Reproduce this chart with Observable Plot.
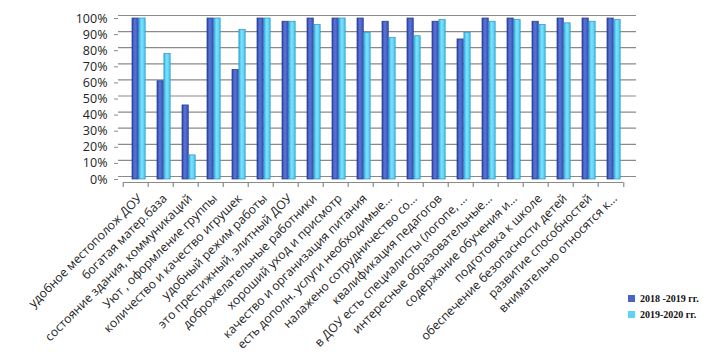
<!DOCTYPE html>
<html>
<head>
<meta charset="utf-8">
<script src="https://cdn.jsdelivr.net/npm/d3@7"></script>
<script src="https://cdn.jsdelivr.net/npm/@observablehq/plot@0.6"></script>
<style>
  html, body { margin: 0; padding: 0; background: #fff; }
  #chart { position: relative; width: 703px; height: 352px; }
</style>
</head>
<body>
<div id="chart"></div>
<script>
const categories = [
  "удобное местополож ДОУ",
  "богатая матер.база",
  "состояние здания, коммуникаций",
  "Уют , оформление группы",
  "количество и качество игрушек",
  "удобный режим работы",
  "это престижный, элитный ДОУ",
  "доброжелательные работники",
  "хороший уход и присмотр",
  "качество и организация питания",
  "есть дополн. услуги необходимые...",
  "налажено сотрудничество со...",
  "квалификация педагогов",
  "в ДОУ есть специалисты (логопе, ...",
  "интересные образовательные...",
  "содержание обучения и...",
  "подготовка к школе",
  "обеспечение безопасности детей",
  "развитие способностей",
  "внимательно относятся к..."
];
const series = ["2018 -2019 гг.", "2019-2020 гг."];
const values2018 = [100, 61, 46, 100, 68, 100, 98, 100, 100, 100, 98, 100, 98, 87, 100, 100, 98, 100, 100, 100];
const values2020 = [100, 78, 15, 100, 93, 100, 98, 96, 100, 91, 88, 89, 99, 91, 98, 99, 96, 97, 98, 99];
const yTicks = [0, 10, 20, 30, 40, 50, 60, 70, 80, 90, 100];
const colors = ["#4a63c9", "#5cd3f7"];

const rows2018 = categories.map((c, i) => ({category: c, value: values2018[i]}));
const rows2020 = categories.map((c, i) => ({category: c, value: values2020[i]}));

const step = (628.5 - 117.7) / categories.length;

const svg = Plot.plot({
  width: 703,
  height: 352,
  marginLeft: 118,
  marginRight: 67,
  marginTop: 18,
  marginBottom: 173,
  style: {fontFamily: "'Open Sans', sans-serif", fontSize: "12px", color: "#222", background: "#fff"},
  x: {domain: categories, range: [117.7, 628.5], padding: 0, axis: null},
  y: {domain: [0, 100], range: [179, 18], axis: null},
  marks: [
    Plot.ruleY(yTicks, {dy: -3, stroke: "#8a8a8a", strokeWidth: 1.2}),
    Plot.ruleY([0], {x1: () => categories[0], x2: () => categories[categories.length - 1], dy: 3, stroke: "#8a8a8a", strokeWidth: 1.2}),
    Plot.ruleX(categories, {x: d => d, dx: -step / 2, y1: -2, y2: -5, stroke: "#8a8a8a", strokeWidth: 1.2}),
    Plot.ruleX([categories[categories.length - 1]], {x: d => d, dx: step / 2, y1: -2, y2: -5, stroke: "#8a8a8a", strokeWidth: 1.2}),
    Plot.axisY({ticks: yTicks, tickFormat: d => d + "%", tickSize: 4, tickPadding: 7, line: true, label: null, stroke: "#8a8a8a", fontSize: 12.5, fill: "#222"}),
    Plot.barY(rows2018, {x: "category", y: "value", insetLeft: 9, insetRight: step - 15.8, fill: "url(#g2018)", stroke: "#22358a", strokeWidth: 0.7}),
    Plot.barY(rows2020, {x: "category", y: "value", insetLeft: 15.9, insetRight: step - 22.7, fill: "url(#g2020)", stroke: "#2a95bf", strokeWidth: 0.7}),
    Plot.text(categories, {x: d => d, y: 0, dx: 4, dy: 17, rotate: -45, textAnchor: "end", fill: "#222", fontSize: 12.2})
  ]
});

// gradients for the cylinder-like bars
const defs = d3.select(svg).insert("defs", ":first-child");
function grad(id, stops) {
  const g = defs.append("linearGradient").attr("id", id).attr("x1", "0").attr("x2", "1").attr("y1", "0").attr("y2", "0");
  stops.forEach(([o, c]) => g.append("stop").attr("offset", o).attr("stop-color", c));
}
grad("g2018", [[0, "#2f47a6"], [0.45, "#5a75d8"], [1, "#3a52b8"]]);
grad("g2020", [[0, "#38b6e4"], [0.45, "#7ee2ff"], [1, "#47c5ef"]]);

// legend
const leg = d3.select(svg).append("g")
  .attr("font-family", "'Liberation Serif', serif")
  .attr("font-size", 10)
  .attr("font-weight", "bold")
  .attr("text-anchor", "start");
series.forEach((s, i) => {
  const y = 295 + i * 16;
  leg.append("rect").attr("x", 628).attr("y", y).attr("width", 7).attr("height", 7).attr("fill", colors[i]);
  leg.append("text").attr("x", 640).attr("y", y + 6.5).attr("fill", "#111").text(s);
});

document.getElementById("chart").appendChild(svg);
</script>
</body>
</html>
